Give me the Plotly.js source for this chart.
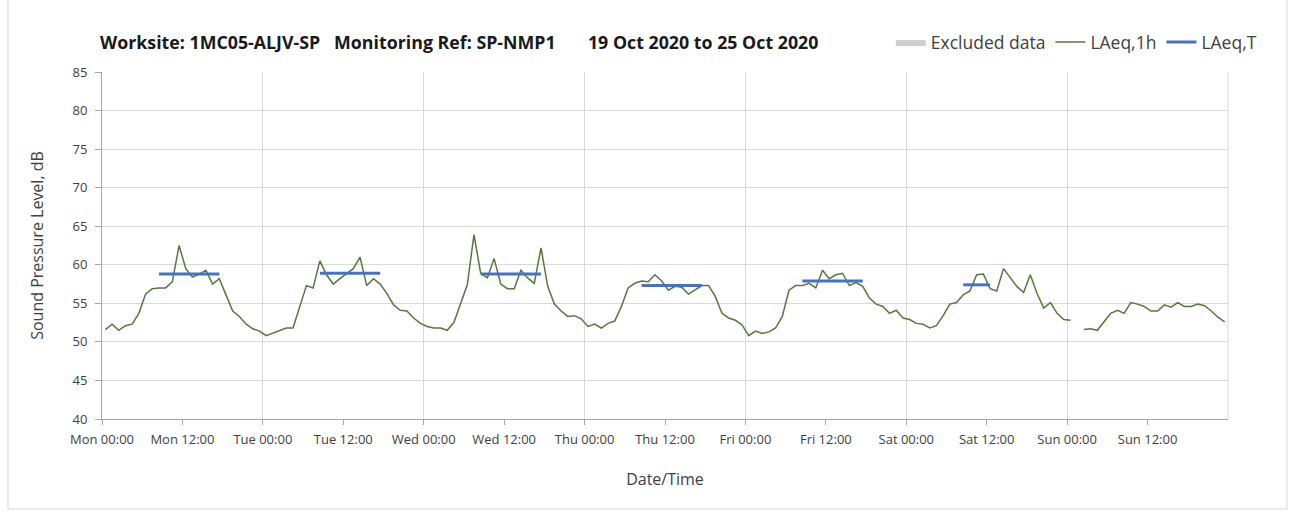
<!DOCTYPE html>
<html>
<head>
<meta charset="utf-8">
<script src="https://cdn.plot.ly/plotly-3.0.1.min.js"></script>
<style>html,body{margin:0;padding:0;background:#fff;}#chart{width:1295px;height:514px;}</style>
</head>
<body>
<div id="chart"></div>
<script>
// Hourly LAeq,1h values (dB), one array per day, hours 00..23
const monLAeq1h = [51.6, 52.3, 51.5, 52.1, 52.3, 53.7, 56.2, 56.9, 57.0, 57.0, 57.8, 62.5, 59.5, 58.4, 58.8, 59.3, 57.5, 58.2, 56.1, 54.0, 53.3, 52.3, 51.7, 51.4];
const tueLAeq1h = [50.8, 51.1, 51.5, 51.8, 51.8, 54.6, 57.3, 57.0, 60.5, 58.7, 57.5, 58.2, 58.9, 59.5, 61.0, 57.3, 58.2, 57.5, 56.3, 54.8, 54.1, 54.0, 53.1, 52.4];
const wedLAeq1h = [52.0, 51.8, 51.8, 51.5, 52.5, 55.0, 57.4, 63.9, 58.9, 58.3, 60.8, 57.5, 56.9, 56.9, 59.3, 58.3, 57.6, 62.2, 57.2, 54.9, 54.0, 53.3, 53.4, 53.0];
const thuLAeq1h = [52.0, 52.3, 51.8, 52.4, 52.7, 54.6, 57.0, 57.6, 57.9, 57.8, 58.7, 57.9, 56.7, 57.2, 57.1, 56.2, 56.7, 57.3, 57.3, 55.9, 53.7, 53.1, 52.8, 52.2];
const friLAeq1h = [50.8, 51.4, 51.1, 51.3, 51.8, 53.3, 56.7, 57.3, 57.3, 57.6, 57.0, 59.3, 58.2, 58.7, 58.9, 57.3, 57.7, 57.2, 55.7, 54.9, 54.6, 53.7, 54.1, 53.1];
const satLAeq1h = [52.9, 52.4, 52.3, 51.8, 52.1, 53.4, 54.9, 55.1, 56.1, 56.6, 58.7, 58.8, 56.9, 56.6, 59.5, 58.3, 57.2, 56.4, 58.7, 56.3, 54.4, 55.1, 53.7, 52.9];
const sunLAeq1h = [52.8, null, 51.6, 51.7, 51.5, 52.6, 53.7, 54.1, 53.7, 55.1, 54.9, 54.6, 54.0, 54.0, 54.8, 54.5, 55.1, 54.6, 54.6, 54.9, 54.7, 54.0, 53.2, 52.6];

// LAeq,T daytime periods
const periodStart = ['2020-10-19 08:30', '2020-10-20 08:30', '2020-10-21 08:30', '2020-10-22 08:30', '2020-10-23 08:30', '2020-10-24 08:30'];
const periodEnd   = ['2020-10-19 17:30', '2020-10-20 17:30', '2020-10-21 17:30', '2020-10-22 17:30', '2020-10-23 17:30', '2020-10-24 12:30'];
const periodLAeqT = [58.8, 58.9, 58.8, 57.3, 57.9, 57.4];

// Excluded data periods (none in this week)
const excludedX = [null];
const excludedY = [null];

// X tick positions and labels
const tickDates = ['2020-10-19 00:00', '2020-10-19 12:00', '2020-10-20 00:00', '2020-10-20 12:00', '2020-10-21 00:00', '2020-10-21 12:00', '2020-10-22 00:00', '2020-10-22 12:00', '2020-10-23 00:00', '2020-10-23 12:00', '2020-10-24 00:00', '2020-10-24 12:00', '2020-10-25 00:00', '2020-10-25 12:00'];
const tickLabels = ['Mon 00:00', 'Mon 12:00', 'Tue 00:00', 'Tue 12:00', 'Wed 00:00', 'Wed 12:00', 'Thu 00:00', 'Thu 12:00', 'Fri 00:00', 'Fri 12:00', 'Sat 00:00', 'Sat 12:00', 'Sun 00:00', 'Sun 12:00'];

const allDays = [monLAeq1h, tueLAeq1h, wedLAeq1h, thuLAeq1h, friLAeq1h, satLAeq1h, sunLAeq1h];
const pad = n => (n < 10 ? '0' : '') + n;
const hx = [], hy = [];
allDays.forEach((vals, d) => {
  vals.forEach((v, h) => {
    hx.push('2020-10-' + pad(19 + d) + ' ' + pad(h) + ':30');
    hy.push(v);
  });
});
const tx = [], ty = [];
periodStart.forEach((s, i) => {
  tx.push(s, periodEnd[i], null);
  ty.push(periodLAeqT[i], periodLAeqT[i], null);
});

const FONT = '"Open Sans", Lato, sans-serif';
const traces = [
  {type: 'scatter', mode: 'lines', x: excludedX, y: excludedY, name: 'Excluded data', fill: 'toself', fillcolor: '#d0d0d0', line: {width: 0, color: '#d0d0d0'}, hoverinfo: 'skip'},
  {type: 'scatter', mode: 'lines', x: hx, y: hy, name: 'LAeq,1h', line: {color: '#56783a', width: 1.5}, connectgaps: false},
  {type: 'scatter', mode: 'lines', x: tx, y: ty, name: 'LAeq,T', line: {color: '#4472c4', width: 3}, connectgaps: false},
  {type: 'scatter', mode: 'lines', x: ['2020-10-19 00:00', '2020-10-26 00:00'], y: [null, null], xaxis: 'x2', showlegend: false, hoverinfo: 'skip'}
];

const layout = {
  width: 1295, height: 514,
  margin: {l: 102, r: 67, t: 72, b: 95},
  paper_bgcolor: '#ffffff', plot_bgcolor: '#ffffff',
  font: {family: FONT, color: '#404040', size: 13},
  title: {
    text: '<b>Worksite: 1MC05-ALJV-SP\u00a0\u00a0\u00a0Monitoring Ref: SP-NMP1\u00a0\u00a0\u00a0\u00a0\u00a0\u00a0\u00a019 Oct 2020 to 25 Oct 2020</b>',
    font: {family: FONT, size: 17.8, color: '#1a1a1a'},
    x: 100 / 1295, xanchor: 'left', xref: 'container',
    y: 1 - 43 / 514, yanchor: 'middle', yref: 'container'
  },
  showlegend: true,
  legend: {
    orientation: 'h', x: 1.03, xanchor: 'right', y: 1.086, yanchor: 'middle',
    font: {family: FONT, size: 17.5, color: '#404040'},
    bgcolor: 'rgba(0,0,0,0)', traceorder: 'normal', itemwidth: 30
  },
  xaxis: {
    type: 'date',
    range: ['2020-10-19 00:00', '2020-10-26 00:00'],
    tickmode: 'array', tickvals: tickDates, ticktext: tickLabels,
    showgrid: false, zeroline: false,
    showline: true, linecolor: '#a6a6a6', linewidth: 1,
    ticks: 'outside', ticklen: 5, tickcolor: '#a6a6a6',
    ticklabelstandoff: 3,
    tickfont: {family: FONT, size: 13, color: '#404040'},
    title: {text: 'Date/Time', font: {family: FONT, size: 16, color: '#404040'}, standoff: 27},
    mirror: false
  },
  xaxis2: {
    type: 'date', overlaying: 'x',
    range: ['2020-10-19 00:00', '2020-10-26 00:00'],
    tick0: '2020-10-19 00:00', dtick: 86400000,
    showgrid: true, gridcolor: '#d9d9d9', gridwidth: 1,
    showticklabels: false, ticks: '', zeroline: false, showline: false
  },
  yaxis: {
    range: [40, 85], dtick: 5, tick0: 40,
    showgrid: true, gridcolor: '#d9d9d9', gridwidth: 1,
    zeroline: false,
    showline: true, linecolor: '#a6a6a6', linewidth: 1,
    ticks: 'outside', ticklen: 6, tickcolor: '#a6a6a6',
    ticklabelstandoff: 5,
    tickfont: {family: FONT, size: 13, color: '#404040'},
    title: {text: 'Sound Pressure Level, dB', font: {family: FONT, size: 16, color: '#404040'}, standoff: 24}
  },
  shapes: [
    {type: 'rect', xref: 'paper', yref: 'paper', x0: -0.0835, x1: 1.0524, y0: -0.2594, y1: 1.22,
     line: {color: '#d9d9d9', width: 1}, fillcolor: 'rgba(0,0,0,0)', layer: 'below'},
    {type: 'line', xref: 'paper', yref: 'paper', x0: 1, x1: 1, y0: 0, y1: 1, line: {color: '#d9d9d9', width: 1}}
  ]
};

Plotly.newPlot('chart', traces, layout, {displayModeBar: false, staticPlot: true});
</script>
</body>
</html>
